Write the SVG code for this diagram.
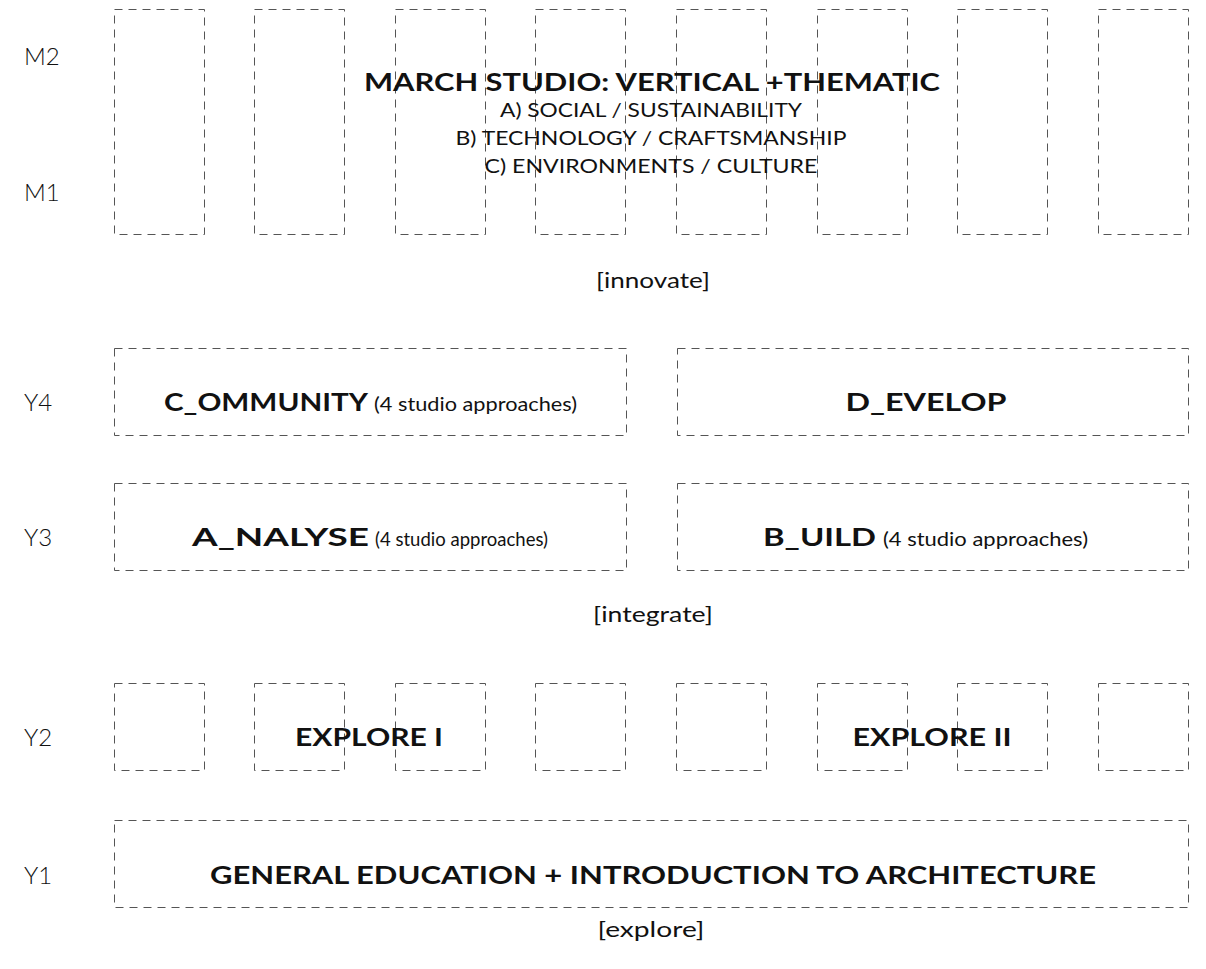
<svg xmlns="http://www.w3.org/2000/svg" width="1206" height="969" viewBox="0 0 1206 969">
<style>
.box{fill:none;stroke:#555;stroke-width:1;stroke-dasharray:8 6}
.t{font-family:Lato,"Liberation Sans",sans-serif;fill:#111}
.lbl{font-size:24px;font-weight:300}
.b{font-weight:700}
.sub{font-size:19px;font-weight:400}
.stage{font-size:22px;font-weight:400}
</style>
<rect width="1206" height="969" fill="#fff"/>
<g id="m-cols">
<rect class="box" x="114.5" y="9.5" width="90" height="225"/>
<rect class="box" x="254.5" y="9.5" width="90" height="225"/>
<rect class="box" x="395.5" y="9.5" width="90" height="225"/>
<rect class="box" x="535.5" y="9.5" width="90" height="225"/>
<rect class="box" x="676.5" y="9.5" width="90" height="225"/>
<rect class="box" x="817.5" y="9.5" width="90" height="225"/>
<rect class="box" x="957.5" y="9.5" width="90" height="225"/>
<rect class="box" x="1098.5" y="9.5" width="90" height="225"/>
</g>
<g id="labels">
<text class="t lbl" x="24" y="65">M2</text>
<text class="t lbl" x="24" y="201">M1</text>
<text class="t lbl" x="24" y="411">Y4</text>
<text class="t lbl" x="24" y="546">Y3</text>
<text class="t lbl" x="24" y="746">Y2</text>
<text class="t lbl" x="24" y="884">Y1</text>
</g>
<g id="march-studio">
<text class="t b" x="652" y="91" font-size="25" text-anchor="middle" textLength="576" lengthAdjust="spacingAndGlyphs">MARCH STUDIO: VERTICAL +THEMATIC</text>
<text class="t sub" x="651" y="117" text-anchor="middle" textLength="302" lengthAdjust="spacingAndGlyphs">A) SOCIAL / SUSTAINABILITY</text>
<text class="t sub" x="651" y="145" text-anchor="middle" textLength="391" lengthAdjust="spacingAndGlyphs">B) TECHNOLOGY / CRAFTSMANSHIP</text>
<text class="t sub" x="651" y="173" text-anchor="middle" textLength="333" lengthAdjust="spacingAndGlyphs">C) ENVIRONMENTS / CULTURE</text>
</g>
<text class="t stage" x="653" y="288" text-anchor="middle" textLength="114" lengthAdjust="spacingAndGlyphs">[innovate]</text>
<g id="community">
<rect class="box" x="114.5" y="348.5" width="512" height="87"/>
<text class="t b" x="164" y="411" font-size="24" textLength="204" lengthAdjust="spacingAndGlyphs">C_OMMUNITY</text>
<text class="t sub" x="374" y="411" textLength="203" lengthAdjust="spacingAndGlyphs">(4 studio approaches)</text>
</g>
<g id="develop">
<rect class="box" x="677.5" y="348.5" width="511" height="87"/>
<text class="t b" x="926" y="411" font-size="24" text-anchor="middle" textLength="161" lengthAdjust="spacingAndGlyphs">D_EVELOP</text>
</g>
<g id="analyse">
<rect class="box" x="114.5" y="483.5" width="512" height="87"/>
<text class="t b" x="192" y="546" font-size="24" textLength="177" lengthAdjust="spacingAndGlyphs">A_NALYSE</text>
<text class="t sub" x="375" y="546" textLength="173" lengthAdjust="spacingAndGlyphs">(4 studio approaches)</text>
</g>
<g id="build">
<rect class="box" x="677.5" y="483.5" width="511" height="87"/>
<text class="t b" x="763" y="546" font-size="24" textLength="113" lengthAdjust="spacingAndGlyphs">B_UILD</text>
<text class="t sub" x="883" y="546" textLength="205" lengthAdjust="spacingAndGlyphs">(4 studio approaches)</text>
</g>
<text class="t stage" x="653" y="622" text-anchor="middle" textLength="120" lengthAdjust="spacingAndGlyphs">[integrate]</text>
<g id="explore-cols">
<rect class="box" x="114.5" y="683.5" width="90" height="87"/>
<rect class="box" x="254.5" y="683.5" width="90" height="87"/>
<rect class="box" x="395.5" y="683.5" width="90" height="87"/>
<rect class="box" x="535.5" y="683.5" width="90" height="87"/>
<rect class="box" x="676.5" y="683.5" width="90" height="87"/>
<rect class="box" x="817.5" y="683.5" width="90" height="87"/>
<rect class="box" x="957.5" y="683.5" width="90" height="87"/>
<rect class="box" x="1098.5" y="683.5" width="90" height="87"/>
</g>
<g id="explore-1">
<text class="t b" x="369" y="746" font-size="24" text-anchor="middle" textLength="148" lengthAdjust="spacingAndGlyphs">EXPLORE I</text>
</g>
<g id="explore-2">
<text class="t b" x="932" y="746" font-size="24" text-anchor="middle" textLength="159" lengthAdjust="spacingAndGlyphs">EXPLORE II</text>
</g>
<g id="general">
<rect class="box" x="114.5" y="820.5" width="1074" height="87"/>
<text class="t b" x="653" y="884" font-size="24" text-anchor="middle" textLength="886" lengthAdjust="spacingAndGlyphs">GENERAL EDUCATION + INTRODUCTION TO ARCHITECTURE</text>
</g>
<text class="t stage" x="651" y="937" text-anchor="middle" textLength="107" lengthAdjust="spacingAndGlyphs">[explore]</text>
<g id="connectors"/>
</svg>
